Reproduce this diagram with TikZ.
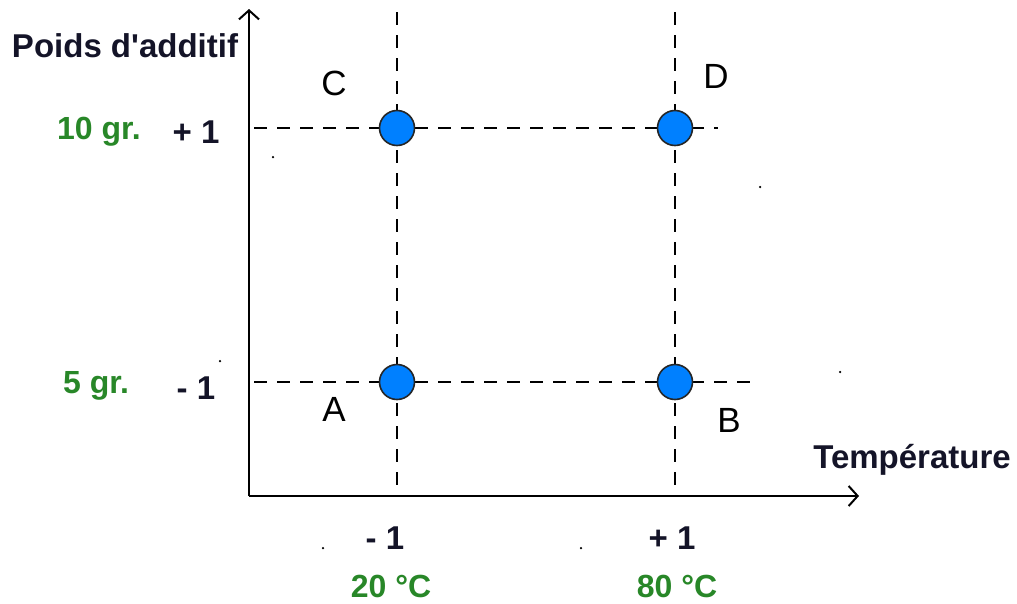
\documentclass[tikz,border=0pt]{standalone}
\usepackage{fontspec}
\setmainfont{Liberation Sans}
\usetikzlibrary{arrows.meta}
\definecolor{lblgreen}{RGB}{40,135,40}
\definecolor{dotblue}{RGB}{0,128,255}
\definecolor{txtdark}{RGB}{20,20,40}
\tikzset{
  axis/.style={line width=2.2pt, -{Straight Barb[length=9pt,width=20pt,line width=2pt]}},
  guide/.style={line width=2pt, dash pattern=on 13pt off 10pt},
  pt/.style={circle, draw=black!85, line width=1.6pt, fill=dotblue, minimum size=35pt, inner sep=0pt},
  lbl/.style={font=\fontsize{33}{36}\selectfont\bfseries, text=txtdark, inner sep=0pt},
  glbl/.style={font=\fontsize{32}{36}\selectfont\bfseries, text=lblgreen, inner sep=0pt},
  corner/.style={font=\fontsize{35}{38}\selectfont, text=black, inner sep=0pt},
  speck/.style={circle, fill=black, inner sep=0pt, minimum size=2.5pt}
}
\begin{document}
\begin{tikzpicture}[x=1pt,y=-1pt]
\useasboundingbox (0,0) rectangle (1017,603);
% axes
\coordinate (O) at (249,496);
\coordinate (ytop) at (249,9);
\coordinate (xend) at (859,496);
\draw[axis] (O) -- (ytop);
\draw[axis] (O) -- (xend);
% guide line ends
\coordinate (v1t) at (397,12);
\coordinate (v1b) at (397,495);
\coordinate (v2t) at (675,12);
\coordinate (v2b) at (675,495);
\coordinate (h1l) at (254,128);
\coordinate (h1r) at (718,128);
\coordinate (h2l) at (254,382);
\coordinate (h2r) at (752,382);
\draw[guide] (v1t) -- (v1b);
\draw[guide] (v2t) -- (v2b);
\draw[guide] (h1l) -- (h1r);
\draw[guide] (h2l) -- (h2r);
% design points
\node[pt] (pC) at (397,128) {};
\node[pt] (pD) at (675,128) {};
\node[pt] (pA) at (397,382) {};
\node[pt] (pB) at (675,382) {};
\node[corner] (lC) at (334,83) {C};
\node[corner] (lD) at (716,76) {D};
\node[corner] (lA) at (334,409) {A};
\node[corner] (lB) at (729,420) {B};
% axis labels
\node[lbl] (ylab) at (125,46) {Poids d\textquotesingle additif};
\node[lbl] (xlab) at (912,460) {Température};
\node[glbl] (g10) at (99,132) {10 gr.};
\node[lbl] (yp1) at (196,132) {+ 1};
\node[glbl] (g5) at (96,386) {5 gr.};
\node[lbl] (ym1) at (196,388) {- 1};
\node[lbl] (xm1) at (385,538) {- 1};
\node[lbl] (xp1) at (672,538) {+ 1};
\node[glbl] (t20) at (391,586) {20 °C};
\node[glbl] (t80) at (677,586) {80 °C};
% stray specks
\node[speck] (s1) at (273,157) {};
\node[speck] (s2) at (760,187) {};
\node[speck] (s3) at (220,361) {};
\node[speck] (s4) at (840,372) {};
\node[speck] (s5) at (323,548) {};
\node[speck] (s6) at (581,548) {};
\end{tikzpicture}
\end{document}
